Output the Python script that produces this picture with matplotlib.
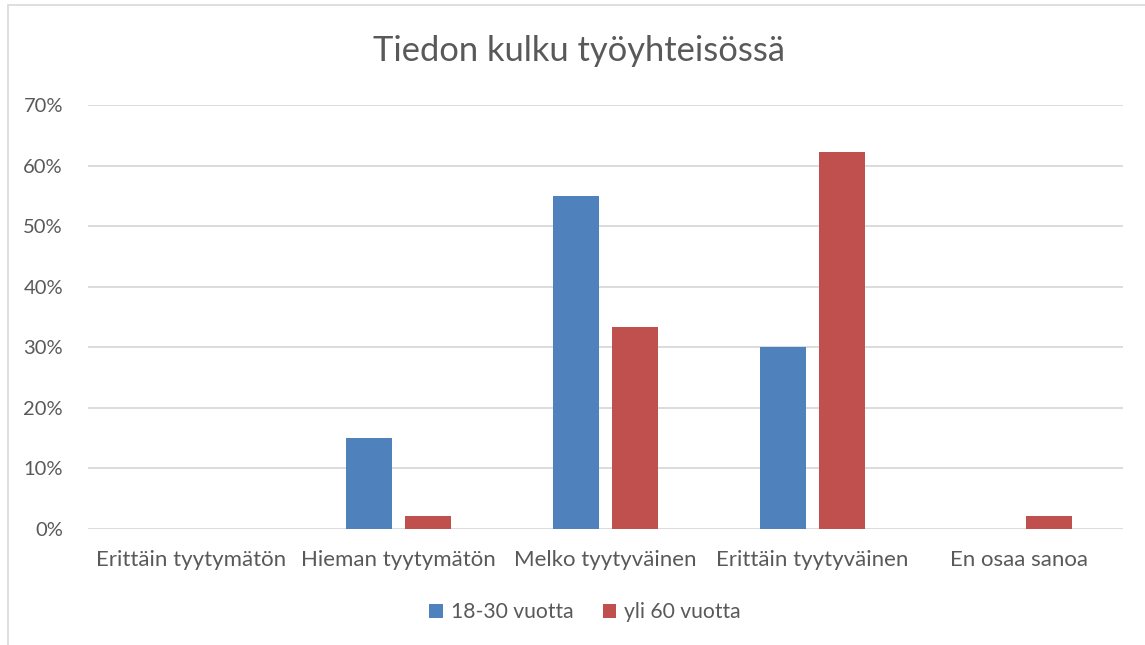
import matplotlib.pyplot as plt
from matplotlib.patches import Rectangle
from matplotlib.ticker import PercentFormatter
import numpy as np

TEXT_COLOR = '#595959'
GRID_COLOR = '#d9d9d9'
BLUE = '#4f81bd'
RED = '#c0504d'

categories = ['Erittäin tyytymätön', 'Hieman tyytymätön', 'Melko tyytyväinen',
              'Erittäin tyytyväinen', 'En osaa sanoa']
series_names = ['18-30 vuotta', 'yli 60 vuotta']
young = [0, 15, 55, 30, 0]
old = [0, 2.2, 33.3, 62.2, 2.2]
y_ticks = [0, 10, 20, 30, 40, 50, 60, 70]

plt.rcParams['font.family'] = ['Lato', 'DejaVu Sans']

W, H = 1145, 645
fig = plt.figure(figsize=(W / 100, H / 100), dpi=100, facecolor='white')
ax = fig.add_axes([88 / W, 1 - 529 / H, (1123 - 88) / W, (529 - 105) / H])

# chart frame (partially cropped in the reference)
fig.patches.append(Rectangle((7.5 / W, -0.1), 1.2, 1 - 5 / H + 0.1,
                             transform=fig.transFigure, fill=False,
                             edgecolor=GRID_COLOR, linewidth=1.2))

x = np.arange(len(categories))
bw = 0.222
off = 0.141
ax.bar(x - off, young, bw, color=BLUE, label=series_names[0], zorder=3)
ax.bar(x + off, old, bw, color=RED, label=series_names[1], zorder=3)

ax.set_xlim(-0.5, len(categories) - 0.5)
ax.set_ylim(0, 70)
ax.set_yticks(y_ticks)
ax.yaxis.set_major_formatter(PercentFormatter(decimals=0))
ax.set_xticks(x)
ax.set_xticklabels(categories, fontsize=16)
ax.grid(axis='y', color=GRID_COLOR, linewidth=1.3, zorder=0)
ax.tick_params(length=0, colors=TEXT_COLOR)
ax.tick_params(axis='y', pad=18, labelsize=14.5)
ax.tick_params(axis='x', pad=15)
for s in ax.spines.values():
    s.set_visible(False)

fig.text(579 / W, 1 - 51 / H, 'Tiedon kulku työyhteisössä', ha='center', va='center',
         fontsize=24.8, color=TEXT_COLOR)

ax.legend(loc='center', bbox_to_anchor=(585 / W, 1 - 612 / H), bbox_transform=fig.transFigure,
          ncol=2, frameon=False, fontsize=15.2, labelcolor=TEXT_COLOR,
          handlelength=0.65, handleheight=0.65, handletextpad=0.35, columnspacing=1.4)

fig.savefig('out.png', dpi=100)
